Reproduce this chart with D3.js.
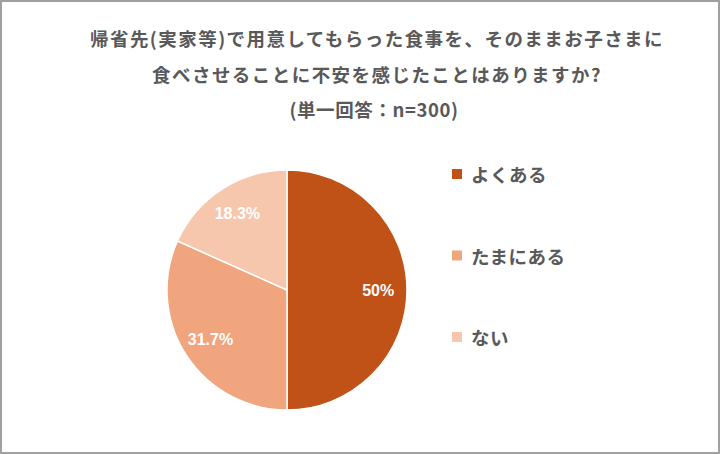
<!DOCTYPE html>
<html><head><meta charset="utf-8">
<script src="https://cdn.jsdelivr.net/npm/d3@7/dist/d3.min.js"></script>
<style>html,body{margin:0;padding:0;background:#fff;}svg{display:block;}</style>
</head><body>
<svg id="chart" width="720" height="454"></svg>
<script>
const titleLines = ["帰省先(実家等)で用意してもらった食事を、そのままお子さまに", "食べさせることに不安を感じたことはありますか?", "(単一回答：n=300)"];
const categories = ["よくある", "たまにある", "ない"];
const values = [50, 31.7, 18.3];
const valueLabels = ["50%", "31.7%", "18.3%"];
const colors = ["#C05117", "#F0A57F", "#F6C7AC"];

const W = 720, H = 454;
const svg = d3.select("#chart");
svg.append("rect").attr("x", 1).attr("y", 1).attr("width", W - 2).attr("height", H - 2)
  .attr("fill", "#fff").attr("stroke", "#a0a0a0").attr("stroke-width", 2);

const jp = "'Noto Sans CJK JP', 'Noto Sans', sans-serif";
const titleY = [46, 82, 117];
const titleSpacing = [1.45, 1.45, 0.6];
svg.selectAll("text.title").data(titleLines).join("text")
  .attr("class", "title")
  .attr("x", (d, i) => i === 2 ? 374 : 377).attr("y", (d, i) => titleY[i])
  .attr("text-anchor", "middle")
  .attr("font-family", jp).attr("font-weight", "bold").attr("font-size", 18.5)
  .attr("letter-spacing", (d, i) => titleSpacing[i])
  .attr("fill", "#595959")
  .text(d => d);

const cx = 287, cy = 290, r = 120;
const pie = d3.pie().sort(null).value(d => d);
const arcs = pie(values);
const arc = d3.arc().innerRadius(0).outerRadius(r);
const labelArc = d3.arc().innerRadius(r * 0.76).outerRadius(r * 0.76);
const g = svg.append("g").attr("transform", `translate(${cx},${cy})`);
g.selectAll("path").data(arcs).join("path")
  .attr("d", arc).attr("fill", (d, i) => colors[i])
  .attr("stroke", "#fff").attr("stroke-width", 1.5);
g.selectAll("text").data(arcs).join("text")
  .attr("transform", d => `translate(${labelArc.centroid(d)})`)
  .attr("text-anchor", "middle").attr("dominant-baseline", "central")
  .attr("font-family", "'Liberation Sans', Arial, sans-serif").attr("font-weight", "bold")
  .attr("font-size", 16).attr("fill", "#fff")
  .text((d, i) => valueLabels[i]);

const legendY = d3.scalePoint().domain(categories).range([174, 337]);
const lg = svg.append("g");
lg.selectAll("rect").data(categories).join("rect")
  .attr("x", 452).attr("y", d => legendY(d) - 5).attr("width", 10).attr("height", 10)
  .attr("fill", (d, i) => colors[i]);
lg.selectAll("text").data(categories).join("text")
  .attr("x", 471).attr("y", d => legendY(d)).attr("dominant-baseline", "central")
  .attr("font-family", jp).attr("font-weight", "bold").attr("font-size", 18.5)
  .attr("letter-spacing", 0.5)
  .attr("fill", "#595959")
  .text(d => d);
</script>
</body></html>
